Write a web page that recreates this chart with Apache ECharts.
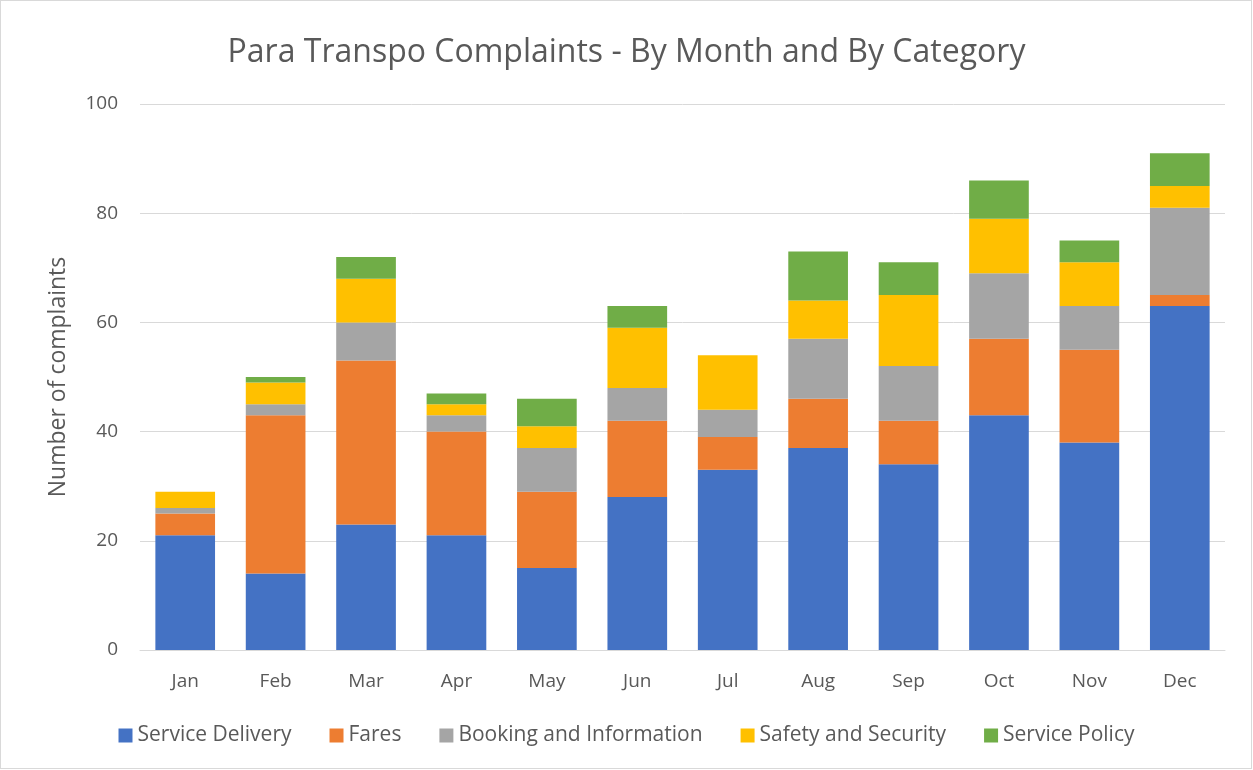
<!DOCTYPE html>
<html>
<head>
<meta charset="utf-8">
<script src="https://cdn.jsdelivr.net/npm/echarts@6/dist/echarts.min.js"></script>
<style>
html,body{margin:0;padding:0;background:#fff;}
#frame{position:absolute;left:0;top:0;width:1250px;height:767px;border:1px solid #D9D9D9;}
#chart{width:1253px;height:770px;position:absolute;left:0;top:0;}
</style>
</head>
<body>
<div id="frame"></div>
<div id="chart"></div>
<script>
const months = ['Jan','Feb','Mar','Apr','May','Jun','Jul','Aug','Sep','Oct','Nov','Dec'];
const serviceDelivery = [21,14,23,21,15,28,33,37,34,43,38,63];
const fares = [4,29,30,19,14,14,6,9,8,14,17,2];
const bookingInfo = [1,2,7,3,8,6,5,11,10,12,8,16];
const safetySecurity = [3,4,8,2,4,11,10,7,13,10,8,4];
const servicePolicy = [0,1,4,2,5,4,0,9,6,7,4,6];
const yTicks = [0,20,40,60,80,100];

const seriesNames = ['Service Delivery','Fares','Booking and Information','Safety and Security','Service Policy'];
const seriesData = [serviceDelivery, fares, bookingInfo, safetySecurity, servicePolicy];
const colors = ['#4472C4','#ED7D31','#A5A5A5','#FFC000','#70AD47'];
const font = '"Open Sans", "Noto Sans", sans-serif';

const chart = echarts.init(document.getElementById('chart'), null, {renderer:'canvas'});
chart.setOption({
  animation:false,
  color: colors,
  textStyle:{fontFamily:font},
  title:{
    text:'Para Transpo Complaints - By Month and By Category',
    left:'center', top:32,
    textStyle:{fontFamily:font, fontSize:32, fontWeight:'normal', color:'#595959'}
  },
  legend:{
    bottom:19, left:'center',
    itemWidth:14, itemHeight:14, itemGap:38,
    icon:'rect',
    textStyle:{fontFamily:font, fontSize:21, color:'#595959', padding:[0,0,0,0]},
    data:seriesNames
  },
  grid:{left:140, right:28, top:104, bottom:120, containLabel:false},
  xAxis:{
    type:'category', data:months,
    axisLine:{lineStyle:{color:'#D9D9D9'}},
    axisTick:{show:false},
    axisLabel:{fontFamily:font, fontSize:19, color:'#595959', margin:22}
  },
  yAxis:{
    type:'value', min:yTicks[0], max:yTicks[yTicks.length-1], interval:20,
    name:'Number of complaints', nameLocation:'middle', nameGap:70,
    nameTextStyle:{fontFamily:font, fontSize:23, color:'#595959'},
    axisLine:{show:false}, axisTick:{show:false},
    axisLabel:{fontFamily:font, fontSize:19, color:'#595959', margin:22},
    splitLine:{lineStyle:{color:'#D9D9D9', width:1}}
  },
  series: seriesNames.map((n,i)=>({
    name:n, type:'bar', stack:'total', data:seriesData[i],
    barWidth:'66%', itemStyle:{color:colors[i]}
  }))
});
</script>
</body>
</html>
